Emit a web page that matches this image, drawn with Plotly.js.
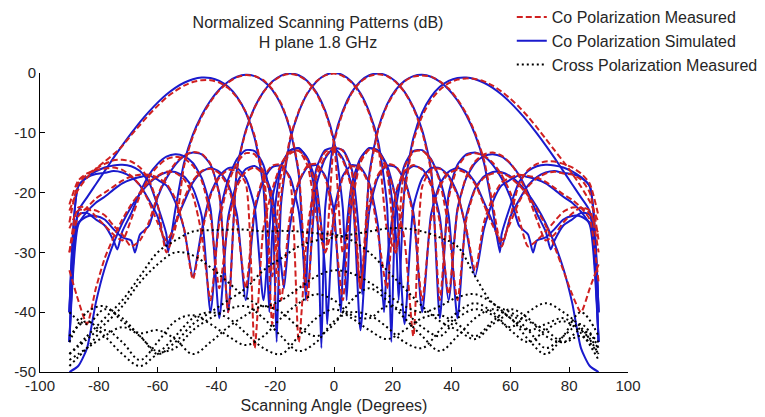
<!DOCTYPE html>
<html>
<head>
<meta charset="utf-8">
<script src="https://cdn.plot.ly/plotly-3.0.1.min.js"></script>
<style>html,body{margin:0;padding:0;background:#fff;}#chart{width:765px;height:417px;}</style>
</head>
<body>
<div id="chart"></div>
<script>
// Scan angle grid (degrees) used by the measured curves
const angles = [-90,-87,-84,-81,-78,-75,-72,-69,-66,-63,-60,-57,-54,-51,-48,-45,-42,-39,-36,-33,-30,-27,-24,-21,-18,-15,-12,-9,-6,-3,0,3,6,9,12,15,18,21,24,27,30,33,36,39,42,45,48,51,54,57,60,63,66,69,72,75,78,81,84,87,90];
// Coarser grid for cross polarization
const anglesX = [-90,-84,-78,-72,-66,-60,-54,-48,-42,-36,-30,-24,-18,-12,-6,0,6,12,18,24,30,36,42,48,54,60,66,72,78,84,90];
// Axis ticks
const xTicks = [-100,-80,-60,-40,-20,0,20,40,60,80,100];
const xTickText = ['-100','-80','-60','-40','-20','0','20','40','60','80','100'];
const yTicks = [-50,-40,-30,-20,-10,0];
const yTickText = ['-50','-40','-30','-20','-10','0'];

// ---- Co polarization simulated (angle arrays include null positions) ----
const simX_m45 = [-90,-87,-84,-81,-78,-75,-72,-69,-66,-63,-60,-57,-54,-51,-48,-45,-42,-39,-36,-33,-30,-27,-24,-22,-21,-18,-15,-12,-9,-6,-3,-2.3,0,3,6,9,12,15,17,18,21,24,27,30,33,36,39,42,45,48,51,54,57,60,63,66,69,72,73.7,75,78,81,84,87,90];
const simY_m45 = [-45,-23.15,-20.8,-18.6,-16.4,-14.2,-12.1,-10.1,-8.2,-6.5,-4.95,-3.6,-2.48,-1.63,-1.04,-0.75,-0.84,-1.33,-2.32,-4.0,-6.6,-10.85,-19.2,-40,-26.9,-15.8,-12.95,-12.6,-14.25,-18.7,-33.2,-42,-23.2,-17.2,-15.4,-15.75,-18.45,-25.7,-40,-32.1,-20.4,-16.7,-15.55,-16.05,-18.4,-24.1,-38,-22.7,-17.55,-15.05,-13.9,-13.6,-14.0,-15.2,-17.1,-20.0,-23.5,-26.5,-29.5,-28,-25.5,-24.5,-23.4,-23.7,-40];

const simX_m30 = [-90,-87,-84,-81,-78,-75,-72,-69,-66,-63,-60,-57,-56.4,-54,-51,-48,-45,-42,-39,-36,-33,-30,-27,-24,-21,-18,-15,-12,-9.6,-9,-6,-3,0,3,6,9,12,15,18,21,24,27,30,33,36,39,42,45,48,51,54,57,60,63,66,69,72,75,78,81,84,87,90];
const simY_m30 = [-40,-18.95,-17.4,-16.45,-15.8,-15.45,-15.35,-15.6,-16.4,-18.2,-22.2,-27,-30,-22.95,-15.0,-10.3,-7.05,-4.6,-2.75,-1.46,-0.63,-0.31,-0.52,-1.32,-2.83,-5.3,-9.35,-16.95,-38,-30.1,-16.0,-12.9,-12.55,-14.3,-18.9,-43,-23.1,-17.4,-15.5,-15.75,-17.9,-23.3,-40,-23.7,-18.6,-16.5,-15.9,-16.5,-18.3,-21.6,-25,-29,-24,-21.2,-18.8,-17.4,-16.65,-16.4,-16.7,-16.9,-17.5,-18.95,-40];

const simX_m15 = [-90,-87,-84,-81,-78,-75,-72,-69,-67.7,-66,-63,-60,-57,-54,-51,-48,-45,-42,-39,-36,-33,-30,-27,-24,-21,-18,-15,-12,-9,-6,-3,0,3,4.3,6,9,12,15,18,21,24,27,30,33,36,39,42,45,48,51,54,57,60,63,66,69,72,75,78,81,84,87,90];
const simY_m15 = [-45,-25.1,-24.0,-23.9,-24.5,-26.1,-27.5,-28,-30,-27,-25.6,-20.8,-17.6,-15.35,-13.9,-13.3,-13.6,-15.35,-20.2,-40,-16.0,-9.6,-5.73,-3.15,-1.43,-0.43,-0.08,-0.38,-1.38,-3.24,-6.3,-11.3,-22.6,-38,-21.3,-14.4,-12.55,-13.0,-15.4,-21,-42,-22.4,-17.6,-15.9,-15.9,-17.2,-20.2,-26.3,-34,-26.1,-21.55,-18.8,-17.85,-17.1,-17.4,-17.8,-18.45,-19.5,-20.7,-21.7,-23.2,-25.4,-45];

const simX_0 = [-90,-87,-84,-81,-78,-75,-72,-69,-66,-63,-60,-57,-54,-51,-48,-45,-42,-39,-36,-33,-30,-27,-24,-21,-19.5,-18,-15,-12,-9,-6,-3,0,3,6,9,12,15,18,19.5,21,24,27,30,33,36,39,42,45,48,51,54,57,60,63,66,69,72,75,78,81,84,87,90];
const simY_0 = [-50,-49,-46,-38.4,-32.7,-28.5,-25.1,-22.4,-20.2,-18.5,-17.3,-16.6,-16.55,-17.3,-19.3,-23.9,-40,-23.8,-17.8,-14.4,-12.9,-13.05,-15.4,-22.9,-45,-21.9,-11.4,-6.55,-3.4,-1.46,-0.35,0,-0.35,-1.46,-3.4,-6.55,-11.4,-21.9,-45,-22.9,-15.4,-13.05,-12.9,-14.4,-17.8,-23.8,-41,-23.9,-19.3,-17.3,-16.55,-16.6,-17.3,-18.5,-20.2,-22.4,-25.1,-28.5,-32.7,-38.4,-46,-49,-50];

const simX_p15 = [-90,-87,-84,-81,-78,-75,-72,-69,-66,-63,-60,-57,-54,-51,-48,-45,-42,-39,-36,-33,-30,-27,-24,-21,-18,-15,-12,-9,-6,-4.3,-3,0,3,6,9,12,15,18,21,24,27,30,33,36,39,42,45,48,51,54,57,60,63,66,67.7,69,72,75,78,81,84,87,90];
const simY_p15 = [-45,-25.4,-23.2,-21.7,-20.7,-19.5,-18.45,-17.8,-17.4,-17.1,-17.85,-18.8,-21.55,-26.1,-34,-26.3,-20.2,-17.2,-15.9,-15.9,-17.6,-22.4,-38,-21,-15.4,-13.0,-12.55,-14.4,-21.3,-46,-22.6,-11.3,-6.3,-3.24,-1.38,-0.38,-0.08,-0.43,-1.43,-3.15,-5.73,-9.6,-16.0,-41,-20.2,-15.35,-13.6,-13.3,-13.9,-15.35,-17.6,-20.8,-25.6,-27,-30,-28,-27.5,-26.1,-24.5,-23.9,-24.0,-25.1,-45];

const simX_p30 = [-90,-87,-84,-81,-78,-75,-72,-69,-66,-63,-60,-57,-54,-51,-48,-45,-42,-39,-36,-33,-30,-27,-24,-21,-18,-15,-12,-9,-6,-3,0,3,6,9,9.6,12,15,18,21,24,27,30,33,36,39,42,45,48,51,54,56.4,57,60,63,66,69,72,75,78,81,84,87,90];
const simY_p30 = [-40,-18.95,-17.5,-16.9,-16.7,-16.4,-16.65,-17.4,-18.8,-21.2,-24,-29,-25,-21.6,-18.3,-16.5,-15.9,-16.5,-18.6,-23.7,-38,-23.3,-17.9,-15.75,-15.5,-17.4,-23.1,-36,-18.9,-14.3,-12.55,-12.9,-16.0,-30.1,-37,-16.95,-9.35,-5.3,-2.83,-1.32,-0.52,-0.31,-0.63,-1.46,-2.75,-4.6,-7.05,-10.3,-15.0,-22.95,-30,-27,-22.2,-18.2,-16.4,-15.6,-15.35,-15.45,-15.8,-16.45,-17.4,-18.95,-40];

const simX_p45 = [-90,-87,-84,-81,-78,-75,-73.7,-72,-69,-66,-63,-60,-57,-54,-51,-48,-45,-42,-39,-36,-33,-30,-27,-24,-21,-18,-17,-15,-12,-9,-6,-3,0,2.3,3,6,9,12,15,18,21,22,24,27,30,33,36,39,42,45,48,51,54,57,60,63,66,69,72,75,78,81,84,87,90];
const simY_p45 = [-40,-23.7,-23.4,-24.5,-25.5,-28,-29.5,-26.5,-23.5,-20.0,-17.1,-15.2,-14.0,-13.6,-13.9,-15.05,-17.55,-22.7,-41,-24.1,-18.4,-16.05,-15.55,-16.7,-20.4,-32.1,-36,-25.7,-18.45,-15.75,-15.4,-17.2,-23.2,-40,-33.2,-18.7,-14.25,-12.6,-12.95,-15.8,-26.9,-38,-19.2,-10.85,-6.6,-4.0,-2.32,-1.33,-0.84,-0.75,-1.04,-1.63,-2.48,-3.6,-4.95,-6.5,-8.2,-10.1,-12.1,-14.2,-16.4,-18.6,-20.8,-23.15,-45];

// ---- Co polarization measured (on the 3-degree grid) ----
const meas_m45 = [-23,-19.5,-17.5,-16,-14.8,-13.6,-12.2,-10.4,-8.7,-7,-5.5,-4.1,-3,-2.1,-1.5,-1.2,-1.2,-1.6,-2.5,-4.1,-6.5,-10.5,-18,-34,-17,-13.5,-13,-14.6,-19.5,-30,-24.5,-17.5,-15.6,-16,-18.8,-27,-36,-20,-16.4,-15.4,-16.2,-18.8,-25,-37,-23,-17.3,-14.8,-13.6,-13.3,-13.8,-15.1,-17.3,-20.6,-24.5,-28,-27,-25,-23.5,-22.5,-23,-30];
const meas_m30 = [-25,-18.5,-17,-16,-15.2,-14.6,-14.5,-14.8,-15.8,-17.8,-22,-30,-26,-15.6,-10.6,-7.3,-4.8,-2.9,-1.6,-0.7,-0.35,-0.5,-1.2,-2.7,-5.1,-9.1,-16.5,-38,-16.5,-13.2,-12.8,-14.6,-19.5,-36,-22,-17,-15.2,-15.6,-18,-24,-38,-24.5,-19,-16.8,-16.2,-16.8,-18.6,-22,-25.5,-28,-25,-21.5,-19,-17.6,-16.8,-16.5,-16.8,-17,-17.8,-20,-28];
const meas_m15 = [-26,-23,-22.8,-23,-23.8,-25.5,-27,-29,-28,-25,-20.5,-17.3,-15.1,-13.8,-13.2,-13.5,-15.2,-20.5,-40,-16.2,-9.8,-5.8,-3.2,-1.5,-0.5,-0.15,-0.45,-1.45,-3.4,-6.5,-11.8,-30,-22,-15,-12.8,-13.2,-15.8,-21,-28,-44,-19,-16.2,-16,-17.5,-20.5,-26,-33,-25,-20.8,-18.3,-17.5,-17,-17.2,-17.5,-18.2,-19.2,-20.3,-21.2,-22.5,-24.5,-35];
const meas_0 = [-33,-38,-42,-36,-31,-27.5,-24.5,-22,-20,-18.3,-17.2,-16.5,-16.7,-17.8,-20.5,-27,-38,-25,-18.5,-15,-13.4,-13.6,-16.5,-42,-20.5,-11.0,-6.4,-3.3,-1.4,-0.4,-0.1,-0.5,-1.6,-3.6,-6.8,-12,-26,-30,-15.8,-13.2,-13.0,-14.5,-18.2,-26,-38,-24.5,-19.5,-17.5,-16.8,-16.7,-17.5,-18.8,-20.5,-22.8,-25.5,-29,-33,-37,-40,-36,-32];
const meas_p15 = [-30,-24,-22.5,-21,-20,-19,-18,-17.3,-17,-17,-17.5,-18.5,-21,-26,-34.5,-27,-20.5,-17.5,-16.2,-16.4,-18.5,-46,-26,-19.5,-15.2,-13.2,-13,-15.5,-24,-30,-11.8,-6.6,-3.4,-1.5,-0.5,-0.2,-0.5,-1.5,-3.2,-5.9,-9.9,-16.5,-38,-21,-15.8,-13.8,-13.4,-13.8,-15,-17,-20,-24.5,-29,-28,-26.5,-24.8,-23.2,-22.5,-22.5,-23.5,-27];
const meas_p30 = [-22,-18,-16.8,-16.2,-16,-15.8,-16.2,-17.2,-18.8,-21.5,-25,-28,-25.5,-21,-18,-16.4,-16,-16.8,-19,-25,-36,-22.5,-17.5,-15.5,-15.3,-17.8,-45,-26,-17.5,-14,-12.4,-13,-16.5,-36,-17.5,-9.6,-5.5,-3,-1.4,-0.6,-0.4,-0.6,-1.4,-2.6,-4.4,-6.8,-10,-14.5,-22,-29,-24,-18.5,-16.2,-15.2,-14.8,-14.8,-15.2,-15.8,-16.8,-18.5,-24];
const meas_p45 = [-30,-22.5,-22.5,-24,-25.5,-27,-28,-24.5,-20.5,-17.5,-15.6,-14.4,-14,-14.3,-15.5,-18,-24,-36,-25,-19,-16.5,-15.8,-17,-21.5,-38,-24,-18.2,-15.5,-15.2,-17.5,-25,-38,-19,-14.5,-12.8,-13.2,-16.5,-30,-20,-11.4,-7.2,-4.5,-2.8,-1.7,-1.1,-0.9,-1.0,-1.4,-2.1,-3.1,-4.3,-5.7,-7.3,-9.1,-11,-12.9,-14.8,-16.8,-19,-21.5,-25];

// ---- Cross polarization measured (on the 6-degree grid) ----
const cross_1 = [-47,-44,-41,-38,-34,-30,-28,-26.5,-26.3,-26.2,-26.2,-26.5,-26.4,-26.5,-26.8,-27,-28,-30,-33,-36,-39,-41.5,-43,-44.5,-42,-40.5,-43,-46,-44,-42,-46];
const cross_2 = [-48,-46,-44,-42.5,-44,-47,-45,-42,-40,-38,-36,-33,-31,-29,-28,-27.5,-27,-26.5,-26,-26,-26.5,-27.5,-29,-34,-38.5,-40,-41.5,-43,-45,-44,-47];
const cross_3 = [-40,-42,-39.5,-41,-44,-46.5,-44,-41,-40,-41,-43.5,-46,-47,-44,-41,-39.5,-41,-43,-44.5,-43,-41,-40.5,-42,-44,-41.5,-39.5,-41,-44,-45,-43,-45];
const cross_4 = [-45,-40,-39,-41.5,-43.5,-43,-44.5,-47,-45,-42.5,-40.5,-39,-40,-42.5,-44,-42,-38,-36,-38,-41,-44,-46.5,-44,-41,-39.5,-41,-44.5,-47,-44,-40,-44];
const cross_5 = [-49,-46,-43,-45,-48,-45,-41.5,-40.5,-42,-44,-45.5,-44,-41,-38.5,-37,-38,-40.5,-41,-39,-40,-42.5,-44,-41,-39.5,-40.5,-43,-45,-43,-41.5,-43.5,-48];
const cross_6 = [-44,-41.5,-44,-47,-49,-47,-46,-43,-41,-39.5,-39,-41,-44,-46.5,-45,-41.5,-40,-40.5,-42.5,-45,-46,-43,-40,-38.5,-40,-42.5,-40,-38.5,-40,-42.5,-47];
const cross_7 = [-47,-44.5,-42,-39,-35,-32,-30,-30.5,-32.5,-35,-37.5,-39,-38,-36,-34,-33,-33.5,-35,-37,-39,-40,-39,-37.5,-37,-38.5,-41,-43,-42,-41,-43,-46];

const seriesNames = ['Co Polarization Measured','Co Polarization Simulated','Cross Polarization Measured'];
const simSets = [[simX_m45,simY_m45],[simX_m30,simY_m30],[simX_m15,simY_m15],[simX_0,simY_0],[simX_p15,simY_p15],[simX_p30,simY_p30],[simX_p45,simY_p45]];
const measSets = [meas_m45,meas_m30,meas_m15,meas_0,meas_p15,meas_p30,meas_p45];
const crossSets = [cross_1,cross_2,cross_3,cross_4,cross_5,cross_6,cross_7];

const BLUE = '#1a1acd', RED = '#d02020';
const traces = [];
simSets.forEach((s,i)=>traces.push({x:s[0],y:s[1],type:'scatter',mode:'lines',name:seriesNames[1],legendgroup:'sim',showlegend:i===0,legendrank:2,line:{color:BLUE,width:2,shape:'spline',smoothing:0.6}}));
measSets.forEach((m,i)=>traces.push({x:angles,y:m,type:'scatter',mode:'lines',name:seriesNames[0],legendgroup:'meas',showlegend:i===0,legendrank:1,line:{color:RED,width:2,dash:'6px,3px',shape:'spline',smoothing:0.6}}));
crossSets.forEach((c,i)=>traces.push({x:anglesX,y:c,type:'scatter',mode:'lines',name:seriesNames[2],legendgroup:'cross',showlegend:i===0,legendrank:3,line:{color:'#000',width:2,dash:'2px,3px',shape:'spline',smoothing:1}}));

const FONT = 'Liberation Sans, Arial, sans-serif';
const axisCommon = {showline:true,linecolor:'#000',linewidth:1,mirror:false,ticks:'inside',ticklen:5,tickcolor:'#000',showgrid:false,zeroline:false,tickmode:'array',tickfont:{family:FONT,size:15,color:'#262626'}};
const layout = {
  width:765,height:417,
  margin:{l:40,r:137,t:73,b:45,autoexpand:false},
  paper_bgcolor:'#fff',plot_bgcolor:'#fff',
  font:{family:FONT,color:'#262626'},
  title:{text:'Normalized Scanning Patterns (dB)<br>H plane 1.8 GHz',font:{size:16,color:'#262626'},xref:'container',x:318/765,xanchor:'center',yref:'container',y:0.934,yanchor:'top'},
  xaxis:Object.assign({},axisCommon,{range:[-100,100],tickvals:xTicks,ticktext:xTickText,title:{text:'Scanning Angle (Degrees)',font:{size:16,color:'#262626'},standoff:6}}),
  yaxis:Object.assign({},axisCommon,{range:[-50,0],tickvals:yTicks,ticktext:yTickText}),
  showlegend:true,
  legend:{xref:'container',yref:'container',x:0.669,y:1.012,xanchor:'left',yanchor:'top',bgcolor:'rgba(0,0,0,0)',font:{size:16,color:'#262626'},tracegroupgap:0,traceorder:'normal'}
};
Plotly.newPlot('chart',traces,layout,{displayModeBar:false,staticPlot:true});
</script>
</body>
</html>
